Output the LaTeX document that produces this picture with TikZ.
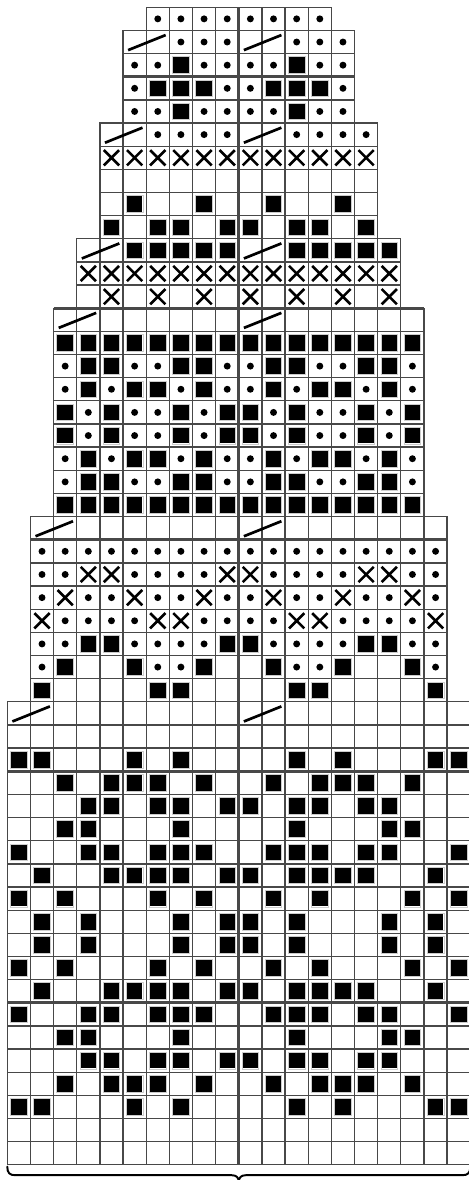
\documentclass[tikz,border=0pt]{standalone}
\definecolor{gridgray}{RGB}{72,72,72}
\tikzset{
  cell/.style={draw=gridgray, line width=1.6pt},
  heavy/.style={draw=gridgray, line width=3.2pt},
  sqhalo/.style={draw=gray!40, line width=0.9pt},
  xmark/.style={draw=black, line width=3.2pt},
  slashmark/.style={draw=black, line width=3.3pt},
  bracestyle/.style={draw=black, line width=2.4pt, line cap=round, line join=round},
}
\newif\ifgridpass
\newcommand\ksymd[2]{\fill[black] (#1+0.5,-#2+0.5) circle (0.15);}
\newcommand\ksyms[2]{\fill[black] (#1+0.16,-#2+0.16) rectangle (#1+0.84,-#2+0.84);
  \draw[sqhalo] (#1+0.14,-#2+0.14) rectangle (#1+0.86,-#2+0.86);}
\newcommand\ksymx[2]{\draw[xmark] (#1+0.17,-#2+0.17) -- (#1+0.83,-#2+0.83) (#1+0.17,-#2+0.83) -- (#1+0.83,-#2+0.17);}
\newcommand\ksymk[2]{\draw[slashmark] (#1+0.22,-#2+0.15) -- (#1+1.84,-#2+0.8);}
\newcommand\ksymb[2]{}
\newcommand\ksymn[2]{}
\newcommand\chartrow[3]{%
  \foreach \s [count=\i from #2] in {#3}{%
    \ifgridpass \draw[cell] (\i,-#1) rectangle ++(1,1);%
    \else \csname ksym\s\endcsname{\i}{#1}\fi}}
\newcommand\allrows{%
\chartrow{1}{6}{d,d,d,d,d,d,d,d}
\chartrow{2}{5}{k,n,d,d,d,k,n,d,d,d}
\chartrow{3}{5}{d,d,s,d,d,d,d,s,d,d}
\chartrow{4}{5}{d,s,s,s,d,d,s,s,s,d}
\chartrow{5}{5}{d,d,s,d,d,d,d,s,d,d}
\chartrow{6}{4}{k,n,d,d,d,d,k,n,d,d,d,d}
\chartrow{7}{4}{x,x,x,x,x,x,x,x,x,x,x,x}
\chartrow{8}{4}{b,b,b,b,b,b,b,b,b,b,b,b}
\chartrow{9}{4}{b,s,b,b,s,b,b,s,b,b,s,b}
\chartrow{10}{4}{s,b,s,s,b,s,s,b,s,s,b,s}
\chartrow{11}{3}{k,n,s,s,s,s,s,k,n,s,s,s,s,s}
\chartrow{12}{3}{x,x,x,x,x,x,x,x,x,x,x,x,x,x}
\chartrow{13}{3}{b,x,b,x,b,x,b,x,b,x,b,x,b,x}
\chartrow{14}{2}{k,n,b,b,b,b,b,b,k,n,b,b,b,b,b,b}
\chartrow{15}{2}{s,s,s,s,s,s,s,s,s,s,s,s,s,s,s,s}
\chartrow{16}{2}{d,s,s,d,d,s,s,d,d,s,s,d,d,s,s,d}
\chartrow{17}{2}{d,s,d,s,s,d,s,d,d,s,d,s,s,d,s,d}
\chartrow{18}{2}{s,d,s,d,d,s,d,s,s,d,s,d,d,s,d,s}
\chartrow{19}{2}{s,d,s,d,d,s,d,s,s,d,s,d,d,s,d,s}
\chartrow{20}{2}{d,s,d,s,s,d,s,d,d,s,d,s,s,d,s,d}
\chartrow{21}{2}{d,s,s,d,d,s,s,d,d,s,s,d,d,s,s,d}
\chartrow{22}{2}{s,s,s,s,s,s,s,s,s,s,s,s,s,s,s,s}
\chartrow{23}{1}{k,n,b,b,b,b,b,b,b,k,n,b,b,b,b,b,b,b}
\chartrow{24}{1}{d,d,d,d,d,d,d,d,d,d,d,d,d,d,d,d,d,d}
\chartrow{25}{1}{d,d,x,x,d,d,d,d,x,x,d,d,d,d,x,x,d,d}
\chartrow{26}{1}{d,x,d,d,x,d,d,x,d,d,x,d,d,x,d,d,x,d}
\chartrow{27}{1}{x,d,d,d,d,x,x,d,d,d,d,x,x,d,d,d,d,x}
\chartrow{28}{1}{d,d,s,s,d,d,d,d,s,s,d,d,d,d,s,s,d,d}
\chartrow{29}{1}{d,s,b,b,s,d,d,s,b,b,s,d,d,s,b,b,s,d}
\chartrow{30}{1}{s,b,b,b,b,s,s,b,b,b,b,s,s,b,b,b,b,s}
\chartrow{31}{0}{k,n,b,b,b,b,b,b,b,b,k,n,b,b,b,b,b,b,b,b}
\chartrow{32}{0}{b,b,b,b,b,b,b,b,b,b,b,b,b,b,b,b,b,b,b,b}
\chartrow{33}{0}{s,s,b,b,b,s,b,s,b,b,b,b,s,b,s,b,b,b,s,s}
\chartrow{34}{0}{b,b,s,b,s,s,s,b,s,b,b,s,b,s,s,s,b,s,b,b}
\chartrow{35}{0}{b,b,b,s,s,b,s,s,b,s,s,b,s,s,b,s,s,b,b,b}
\chartrow{36}{0}{b,b,s,s,b,b,b,s,b,b,b,b,s,b,b,b,s,s,b,b}
\chartrow{37}{0}{s,b,b,s,s,b,s,s,s,b,b,s,s,s,b,s,s,b,b,s}
\chartrow{38}{0}{b,s,b,b,s,s,s,s,b,s,s,b,s,s,s,s,b,b,s,b}
\chartrow{39}{0}{s,b,s,b,b,b,s,b,s,b,b,s,b,s,b,b,b,s,b,s}
\chartrow{40}{0}{b,s,b,s,b,b,b,s,b,s,s,b,s,b,b,b,s,b,s,b}
\chartrow{41}{0}{b,s,b,s,b,b,b,s,b,s,s,b,s,b,b,b,s,b,s,b}
\chartrow{42}{0}{s,b,s,b,b,b,s,b,s,b,b,s,b,s,b,b,b,s,b,s}
\chartrow{43}{0}{b,s,b,b,s,s,s,s,b,s,s,b,s,s,s,s,b,b,s,b}
\chartrow{44}{0}{s,b,b,s,s,b,s,s,s,b,b,s,s,s,b,s,s,b,b,s}
\chartrow{45}{0}{b,b,s,s,b,b,b,s,b,b,b,b,s,b,b,b,s,s,b,b}
\chartrow{46}{0}{b,b,b,s,s,b,s,s,b,s,s,b,s,s,b,s,s,b,b,b}
\chartrow{47}{0}{b,b,s,b,s,s,s,b,s,b,b,s,b,s,s,s,b,s,b,b}
\chartrow{48}{0}{s,s,b,b,b,s,b,s,b,b,b,b,s,b,s,b,b,b,s,s}
\chartrow{49}{0}{b,b,b,b,b,b,b,b,b,b,b,b,b,b,b,b,b,b,b,b}
\chartrow{50}{0}{b,b,b,b,b,b,b,b,b,b,b,b,b,b,b,b,b,b,b,b}
}
\begin{document}
\begin{tikzpicture}[x=1cm,y=1cm]
\useasboundingbox[fill=white] (-0.315,0.315) rectangle (19.944,-50.657);
% grid
\gridpasstrue
\allrows
% heavy lines
\draw[heavy] (5,-3) -- (15,-3);
\draw[heavy] (2,-13) -- (18,-13);
\draw[heavy] (1,-23) -- (19,-23);
\draw[heavy] (0,-33) -- (20,-33);
\draw[heavy] (0,-43) -- (20,-43);
\coordinate (ctop) at (10,0);
\coordinate (cbot) at (10,-50);
\draw[heavy] (ctop) -- (cbot);
% symbols
\gridpassfalse
\allrows
% brace
\draw[bracestyle] (0,-50.08) .. controls (0,-50.35) and (0.1,-50.45) .. (0.35,-50.45)
  -- (9.7,-50.45) .. controls (9.9,-50.45) and (10,-50.55) .. (10,-50.75)
  .. controls (10,-50.55) and (10.1,-50.45) .. (10.3,-50.45)
  -- (19.65,-50.45) .. controls (19.9,-50.45) and (20,-50.35) .. (20,-50.08);
\end{tikzpicture}
\end{document}
